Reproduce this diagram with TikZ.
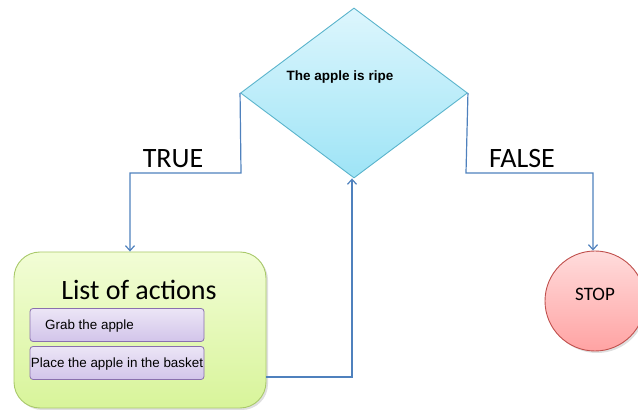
\documentclass[tikz,border=0pt]{standalone}
\usepackage{fontspec}
\setmainfont{Liberation Sans}
\newfontfamily\calib{Carlito}
\usetikzlibrary{shapes.geometric,arrows.meta,shadows}
\definecolor{lineblue}{HTML}{4F81BD}
\definecolor{diaborder}{HTML}{5BB4CC}
\definecolor{diatop}{HTML}{DDF6FD}
\definecolor{diabot}{HTML}{9EE4F6}
\definecolor{grnborder}{HTML}{A9C96A}
\definecolor{grntop}{HTML}{F2FDD6}
\definecolor{grnbot}{HTML}{D8F49A}
\definecolor{purborder}{HTML}{8A70AE}
\definecolor{purtop}{HTML}{ECE6F6}
\definecolor{purbot}{HTML}{D2C4EA}
\definecolor{redborder}{HTML}{C0504D}
\definecolor{redtop}{HTML}{FFDCDC}
\definecolor{redbot}{HTML}{FFA3A3}
\tikzset{
  conn/.style={draw=lineblue, line width=1.2pt, -{Straight Barb[length=5pt,width=9pt]}},
  lbl/.style={font=\calib\fontsize{28}{32}\selectfont, inner sep=0pt},
  actbox/.style={draw=purborder, line width=0.8pt, rounded corners=3pt, top color=purtop, bottom color=purbot, minimum width=174pt, minimum height=33pt, inner sep=0pt},
  acttext/.style={font=\fontsize{13.4}{15}\selectfont, inner sep=0pt}
}
\begin{document}
\begin{tikzpicture}[x=1pt,y=-1pt]
\useasboundingbox (0,0) rectangle (638,411);
% diamond
\node[diamond, draw=diaborder, line width=0.9pt, top color=diatop, bottom color=diabot, minimum width=227pt, minimum height=170pt, inner sep=0pt, aspect=1.335] (dec) at (354,93) {};
\node[font=\bfseries\fontsize{13.5}{15}\selectfont, inner sep=0pt] (dectxt) at (340,77) {The apple is ripe};
% green box
\node[draw=grnborder, line width=0.9pt, rounded corners=26pt, top color=grntop, bottom color=grnbot, minimum width=252pt, minimum height=156pt, inner sep=0pt, drop shadow={opacity=0.25, shadow xshift=2pt, shadow yshift=-2pt}] (list) at (140,330) {};
\node[font=\calib\fontsize{28}{32}\selectfont, inner sep=0pt] (listtitle) at (139,290) {List of actions};
\node[actbox] (a1) at (117,325) {};
\node[acttext, anchor=west] (a1t) at (45,326) {Grab the apple};
\node[actbox] (a2) at (117,363) {};
\node[acttext] (a2t) at (117,364) {Place the apple in the basket};
% stop
\node[circle, draw=redborder, line width=0.9pt, top color=redtop, bottom color=redbot, minimum size=100pt, inner sep=0pt, drop shadow={opacity=0.25, shadow xshift=2pt, shadow yshift=-2pt}] (stop) at (595,301) {};
\node[font=\calib\fontsize{19}{22}\selectfont, inner sep=0pt] (stopt) at (595,294) {STOP};
% connectors
\coordinate (tl) at (241,173);
\coordinate (tr) at (130,173);
\draw[conn] (dec.west) -- (tl) -- (tr) -- (list.north -| tr);
\coordinate (fl) at (466,173);
\coordinate (fr) at (593,173);
\draw[conn] (dec.east) -- (fl) -- (fr) -- (stop.north -| fr);
\coordinate (bl) at (266,377);
\coordinate (br) at (352,377);
\draw[conn] (bl) -- (br) -- (br |- dec.south);
\node[lbl] (ltrue) at (173,159) {TRUE};
\node[lbl] (lfalse) at (522,159) {FALSE};
\end{tikzpicture}
\end{document}
